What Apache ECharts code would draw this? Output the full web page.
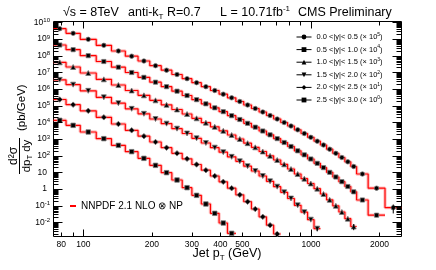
<!DOCTYPE html>
<html>
<head>
<meta charset="utf-8">
<script src="https://cdn.jsdelivr.net/npm/echarts@6.0.0/dist/echarts.min.js"></script>
<style>
html,body{margin:0;padding:0;background:#fff;}
#chart{width:436px;height:270px;}
</style>
</head>
<body>
<div id="chart"></div>
<script>
// ---------------- data ----------------
const binEdges = [74, 84, 97, 114, 133, 153, 174, 196, 220, 245, 272, 300, 330, 362, 395, 430, 468, 507, 548, 592, 638, 686, 737, 790, 846, 905, 967, 1032, 1101, 1172, 1248, 1327, 1410, 1497, 1588, 1784, 2116, 2500];

const rapidityBins = ['0.0 <|y|< 0.5', '0.5 <|y|< 1.0', '1.0 <|y|< 1.5', '1.5 <|y|< 2.0', '2.0 <|y|< 2.5', '2.5 <|y|< 3.0'];
const scaleExponents = [5, 4, 3, 2, 1, 0];

// d2sigma/dpT dy in pb/GeV (unscaled), one value per pT bin
const xsec_y00_05 = [4.17e4, 2.19e4, 9.55e3, 4.17e3, 1.91e3, 9.33e2, 4.79e2, 2.51e2, 1.35e2, 7.41e1, 4.17e1, 2.40e1, 1.38e1, 8.13, 4.90, 2.95, 1.78, 1.10, 6.76e-1, 4.17e-1, 2.57e-1, 1.58e-1, 9.77e-2, 6.03e-2, 3.55e-2, 2.14e-2, 1.26e-2, 7.41e-3, 4.37e-3, 2.45e-3, 1.38e-3, 7.76e-4, 4.27e-4, 2.24e-4, 7.94e-5, 1.12e-5, 7.59e-7];
const xsec_y05_10 = [4.37e4, 2.29e4, 1.00e4, 4.47e3, 2.04e3, 9.77e2, 5.01e2, 2.57e2, 1.38e2, 7.41e1, 4.07e1, 2.29e1, 1.29e1, 7.41, 4.37, 2.51, 1.48, 8.71e-1, 5.13e-1, 3.02e-1, 1.78e-1, 1.05e-1, 6.17e-2, 3.55e-2, 1.95e-2, 1.12e-2, 6.31e-3, 3.47e-3, 1.91e-3, 1.00e-3, 5.25e-4, 2.75e-4, 1.41e-4, 6.76e-5, 2.19e-5, 2.69e-6];
const xsec_y10_15 = [3.98e4, 2.09e4, 9.12e3, 3.80e3, 1.74e3, 8.13e2, 4.17e2, 2.09e2, 1.12e2, 5.89e1, 3.16e1, 1.74e1, 9.55, 5.37, 3.09, 1.74, 1.00, 5.62e-1, 3.16e-1, 1.78e-1, 9.77e-2, 5.50e-2, 3.02e-2, 1.58e-2, 7.94e-3, 4.17e-3, 2.14e-3, 1.05e-3, 5.01e-4, 2.24e-4, 9.77e-5, 4.17e-5, 1.66e-5, 5.62e-6];
const xsec_y15_20 = [3.55e4, 1.82e4, 7.76e3, 3.16e3, 1.41e3, 6.46e2, 3.24e2, 1.58e2, 8.32e1, 4.17e1, 2.14e1, 1.10e1, 5.75, 3.02, 1.62, 8.51e-1, 4.57e-1, 2.34e-1, 1.20e-1, 6.03e-2, 2.88e-2, 1.38e-2, 6.31e-3, 2.69e-3, 1.05e-3, 4.07e-4, 1.45e-4, 4.17e-5];
const xsec_y20_25 = [2.34e4, 1.15e4, 4.90e3, 2.00e3, 7.94e2, 3.31e2, 1.48e2, 6.61e1, 3.02e1, 1.38e1, 6.46, 2.95, 1.35, 6.03e-1, 2.69e-1, 1.12e-1, 4.47e-2, 1.74e-2, 6.31e-3, 2.14e-3, 6.76e-4, 2.00e-4];
const xsec_y25_30 = [1.32e4, 6.61e3, 2.63e3, 1.05e3, 4.17e2, 1.74e2, 6.92e1, 2.63e1, 9.55, 3.47, 1.20, 4.17e-1, 1.26e-1, 3.47e-2, 9.12e-3, 2.19e-3];

// relative uncertainty of the highest-pT point of each rapidity bin
const lastPointRelErr = [0.55, 0.2, 0.4, 0.3, 0.25, 0.15];

const xTickLabels = [80, 100, 200, 300, 400, 500, 1000, 2000];
const yTickExponents = [-2, -1, 0, 1, 2, 3, 4, 5, 6, 7, 8, 9, 10];
const theoryLabel = 'NNPDF 2.1 NLO \u2297 NP';

// ---------------- chart ----------------
const F = "'Liberation Sans', Arial, Helvetica, sans-serif";
const X_MIN = 74, X_MAX = 2500;
const Y_MIN = Math.pow(10, -2.85), Y_MAX = Math.pow(10, 10.05);

const allXsec = [xsec_y00_05, xsec_y05_10, xsec_y10_15, xsec_y15_20, xsec_y20_25, xsec_y25_30];
const markerSymbols = ['circle', 'rect', 'triangle', 'triangle', 'diamond', 'rect'];
const markerRotate = [0, 0, 0, 180, 0, 0];
const markerSize = [4.5, 4.2, 5, 5, 5.5, 4.5];

const series = [];
const errData = [];
allXsec.forEach((vals, k) => {
  const f = Math.pow(10, scaleExponents[k]);
  const stepData = vals.map((v, i) => [binEdges[i], v * f]);
  stepData.push([binEdges[vals.length], vals[vals.length - 1] * f]);
  series.push({
    type: 'line', step: 'end', data: stepData, symbol: 'none', showSymbol: false,
    lineStyle: { color: 'rgba(255,60,60,0.30)', width: 3.4 }, silent: true, z: 2
  });
  series.push({
    type: 'line', name: theoryLabel, step: 'end', data: stepData, symbol: 'none', showSymbol: false,
    itemStyle: { color: '#ff0000' }, lineStyle: { color: '#ff0000', width: 1.2 }, silent: true, z: 3
  });
  const pts = vals.map((v, i) => [Math.sqrt(binEdges[i] * binEdges[i + 1]), v * f]);
  series.push({
    type: 'line', name: rapidityBins[k], data: pts,
    symbol: markerSymbols[k], symbolSize: markerSize[k], symbolRotate: markerRotate[k], showSymbol: true,
    itemStyle: { color: '#000', borderColor: 'rgba(120,120,120,0.75)', borderWidth: 1 },
    lineStyle: { color: '#000', opacity: 0 }, silent: true, z: 5
  });
  const last = pts[pts.length - 1];
  const e = lastPointRelErr[k];
  errData.push([last[0], last[1], last[1] * (1 - e), last[1] * (1 + e)]);
});

series.push({
  type: 'custom', data: errData, silent: true, z: 6, clip: false,
  renderItem: (params, api) => {
    const lo = api.coord([api.value(0), api.value(2)]);
    const hi = api.coord([api.value(0), api.value(3)]);
    return { type: 'line', shape: { x1: lo[0], y1: lo[1], x2: hi[0], y2: hi[1] }, style: { stroke: '#000', lineWidth: 1 } };
  }
});

// axis ticks (ROOT style, inward on all four sides)
const yTicks = [];
for (let e = -3; e <= 10; e++) {
  for (let m = 1; m <= 9; m++) {
    const v = m * Math.pow(10, e);
    if (v >= Y_MIN && v <= Y_MAX) yTicks.push([X_MIN, v, m === 1 ? 1 : 0]);
  }
}
const xTicks = [];
for (let e = 1; e <= 3; e++) {
  for (let m = 1; m <= 9; m++) {
    const v = m * Math.pow(10, e);
    if (v >= X_MIN && v <= X_MAX) xTicks.push([v, Y_MIN, m === 1 ? 1 : 0]);
  }
}
series.push({
  type: 'custom', data: yTicks, silent: true, z: 8, clip: false,
  renderItem: (params, api) => {
    const v = api.value(1), major = api.value(2);
    const pl = api.coord([X_MIN, v]), pr = api.coord([X_MAX, v]);
    const L = major ? 9 : 5;
    const y = Math.round(pl[1]) + 0.5;
    return { type: 'group', children: [
      { type: 'line', shape: { x1: pl[0], y1: y, x2: pl[0] + L, y2: y }, style: { stroke: '#000', lineWidth: 1 } },
      { type: 'line', shape: { x1: pr[0], y1: y, x2: pr[0] - L, y2: y }, style: { stroke: '#000', lineWidth: 1 } }
    ] };
  }
});
series.push({
  type: 'custom', data: xTicks, silent: true, z: 8, clip: false,
  renderItem: (params, api) => {
    const v = api.value(0), major = api.value(2);
    const pb = api.coord([v, Y_MIN]), pt = api.coord([v, Y_MAX]);
    const L = major ? 7 : 4;
    const x = Math.round(pb[0]) + 0.5;
    return { type: 'group', children: [
      { type: 'line', shape: { x1: x, y1: pb[1], x2: x, y2: pb[1] - L }, style: { stroke: '#000', lineWidth: 1 } },
      { type: 'line', shape: { x1: x, y1: pt[1], x2: x, y2: pt[1] + L }, style: { stroke: '#000', lineWidth: 1 } }
    ] };
  }
});
// tick labels
series.push({
  type: 'custom', data: yTickExponents.map(e => [X_MIN, Math.pow(10, e), e]), silent: true, z: 8, clip: false,
  renderItem: (params, api) => {
    const e = api.value(2);
    const p = api.coord([X_MIN, api.value(1)]);
    let text, x;
    if (e === 0) { text = '{b|1}'; x = p[0] - 6.5; }
    else if (e === 1) { text = '{b|10}'; x = p[0] - 6.5; }
    else { text = '{b|10}{s|' + e + '}'; x = p[0] - 3.5; }
    return { type: 'text', style: {
      text: text, x: x, y: p[1], align: 'right', verticalAlign: 'middle', fill: '#000',
      rich: {
        b: { fontSize: 8.5, fontFamily: F, lineHeight: 10, fill: '#000' },
        s: { fontSize: 6, fontFamily: F, lineHeight: 6, verticalAlign: 'top', fill: '#000' }
      }
    } };
  }
});
series.push({
  type: 'custom', data: xTickLabels.map(v => [v, Y_MIN]), silent: true, z: 8, clip: false,
  renderItem: (params, api) => {
    const p = api.coord([api.value(0), Y_MIN]);
    return { type: 'text', style: {
      text: String(api.value(0)), x: p[0], y: p[1] + 8, align: 'center', verticalAlign: 'middle',
      fontSize: 8.5, fontFamily: F, fill: '#000'
    } };
  }
});

const chart = echarts.init(document.getElementById('chart'), null, { renderer: 'canvas' });
const richMain = { fontSize: 12.5, fontFamily: F, lineHeight: 16, fill: '#000' };
const richSub = { fontSize: 8, fontFamily: F, lineHeight: 8, verticalAlign: 'bottom', fill: '#000' };
const richSup = { fontSize: 8, fontFamily: F, lineHeight: 8, verticalAlign: 'top', fill: '#000' };

chart.setOption({
  animation: false,
  backgroundColor: '#fff',
  grid: { left: 53.5, top: 21.5, width: 348, height: 215, show: true, borderColor: '#000', borderWidth: 1, backgroundColor: 'transparent' },
  xAxis: { type: 'log', logBase: 10, min: X_MIN, max: X_MAX,
    axisLine: { show: false }, axisTick: { show: false }, axisLabel: { show: false }, splitLine: { show: false } },
  yAxis: { type: 'log', logBase: 10, min: Y_MIN, max: Y_MAX,
    axisLine: { show: false }, axisTick: { show: false }, axisLabel: { show: false }, splitLine: { show: false } },
  legend: [
    {
      data: rapidityBins, orient: 'vertical', left: 296, top: 32, padding: 0,
      itemWidth: 15, itemHeight: 6, itemGap: 3.6, itemTextGap: 8, selectedMode: false,
      lineStyle: { color: '#000', width: 1, opacity: 1, type: 'solid' },
      itemStyle: { borderWidth: 0, color: '#000' },
      formatter: (name) => '{t|' + name + ' (\u00d7 10}{s|' + scaleExponents[rapidityBins.indexOf(name)] + '}{t|)}',
      textStyle: {
        color: '#000', fontFamily: F, fontSize: 7.5,
        rich: {
          t: { fontSize: 7.5, fontFamily: F, lineHeight: 10, color: '#000' },
          s: { fontSize: 5, fontFamily: F, lineHeight: 6, verticalAlign: 'top', color: '#000' }
        }
      }
    },
    {
      data: [theoryLabel], left: 70, top: 201, padding: 0, icon: 'rect', itemWidth: 6, itemHeight: 2, itemTextGap: 2,
      selectedMode: false,
      textStyle: { color: '#000', fontFamily: F, fontSize: 10 }
    }
  ],
  graphic: [
    { type: 'text', x: 63, y: 13, style: { text: '\u221as = 8TeV', font: '12.5px ' + F, fill: '#000', verticalAlign: 'middle' } },
    { type: 'text', x: 128, y: 13, style: { text: '{m|anti-k}{sub|T}{m| R=0.7}', rich: { m: richMain, sub: richSub }, verticalAlign: 'middle' } },
    { type: 'text', x: 220, y: 13, style: { text: '{m|L = 10.71fb}{sup|-1}', rich: { m: richMain, sup: richSup }, verticalAlign: 'middle' } },
    { type: 'text', x: 298, y: 13, style: { text: 'CMS Preliminary', font: '12.5px ' + F, fill: '#000', verticalAlign: 'middle' } },
    { type: 'text', x: 227, y: 254, style: { text: '{m|Jet p}{sub|T}{m| (GeV)}', rich: { m: richMain, sub: richSub }, align: 'center', verticalAlign: 'middle' } },
    {
      type: 'group', x: 22, y: 132, rotation: Math.PI / 2,
      children: [
        { type: 'text', x: 1, y: 0, style: { text: '(pb/GeV)', font: '11.5px ' + F, fill: '#000', align: 'left', verticalAlign: 'middle' } },
        { type: 'text', x: -24, y: -8.5, style: { text: 'd\u00b2\u03c3', font: '12px ' + F, fill: '#000', align: 'center', verticalAlign: 'middle' } },
        { type: 'line', shape: { x1: -42, y1: -2.5, x2: -6, y2: -2.5 }, style: { stroke: '#000', lineWidth: 1 } },
        { type: 'text', x: -24, y: 5, style: { text: '{m|dp}{sub|T}{m| dy}',
          rich: { m: { fontSize: 11.5, fontFamily: F, lineHeight: 14, fill: '#000' }, sub: { fontSize: 7.5, fontFamily: F, lineHeight: 7, verticalAlign: 'bottom', fill: '#000' } },
          align: 'center', verticalAlign: 'middle' } }
      ]
    }
  ],
  series: series
});
</script>
</body>
</html>
